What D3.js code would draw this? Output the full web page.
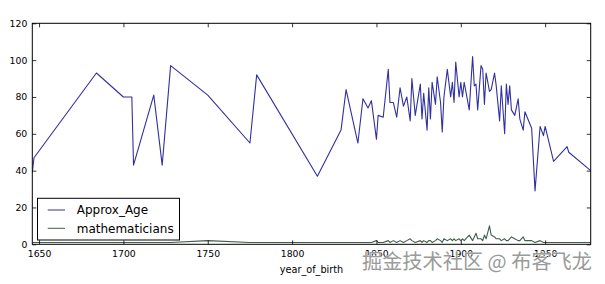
<!DOCTYPE html>
<html><head><meta charset="utf-8">
<script src="https://cdn.jsdelivr.net/npm/d3@7"></script>
<style>body{margin:0;background:#fff}svg{display:block}</style>
</head><body>
<script>
const years = [1646,1647,1684,1700,1705,1706,1718,1723,1728,1750,1775,1779,1815,1829,1832,1839,1842,1845,1847,1850,1851,1854,1857,1858,1860,1862,1864,1866,1868,1870,1871,1873,1876,1877,1878,1880,1881,1882,1883,1885,1886,1888,1889,1890,1892,1894,1895,1896,1897,1899,1900,1901,1902,1905,1907,1908,1909,1910,1912,1913,1914,1915,1917,1918,1920,1921,1923,1924,1926,1927,1928,1929,1930,1932,1934,1935,1937,1938,1942,1944,1947,1949,1950,1955,1963,1964,1977];
const approxAge = [39,47,93,80,80,43,81,43,97,81,55,92,37,62,84,55,79,74,78,57,70,69,95,77,77,69,85,75,80,67,90,70,87,68,82,62,85,68,88,76,91,77,61,80,95,80,88,77,99,80,88,80,88,73,102,86,87,73,97,95,76,93,83,84,93,86,67,86,60,87,76,86,73,70,79,68,62,72,63,29,64,59,64,45,53,50,40];
const mathematicians = [1,1,1,1,1,1,1,1,1,2,1,1,1,1,1,1,1,1,1,2,1,1,2,1,2,1,2,1,2,3,2,1,2,1,2,1,2,2,1,2,3,2,1,3,2,3,2,3,2,3,2,3,2,5,2,4,6,3,3,2,5,3,10,5,4,3,3,2,3,2,2,3,4,3,2,2,4,2,2,1,2,1,1,1,1,1,1];
const xTicks = [1650,1700,1750,1800,1850,1900,1950];
const yTicks = [0,20,40,60,80,100,120];
const seriesNames = ["Approx_Age","mathematicians"];
const seriesColors = ["#3030a0","#3f5f4a"];

const W=605,H=284, L=32.3, T=23.3, R=590.7, B=244.3;
const svg=d3.select("body").append("svg").attr("width",W).attr("height",H);
const x=d3.scaleLinear().domain([years[0],years[years.length-1]]).range([L,R]);
const y=d3.scaleLinear().domain([0,120]).range([B,T]);
const font="DejaVu Sans";

svg.append("defs").append("clipPath").attr("id","clip").append("rect")
  .attr("x",L).attr("y",T).attr("width",R-L).attr("height",B-T);

const line=(vals)=>d3.line().x((d,i)=>x(years[i])).y(d=>y(d))(vals);
const g=svg.append("g").attr("clip-path","url(#clip)");
[approxAge,mathematicians].forEach((vals,k)=>{
  g.append("path").attr("d",line(vals)).attr("fill","none")
   .attr("stroke",seriesColors[k]).attr("stroke-width",1.1).attr("stroke-linejoin","round");
});

function styleAxis(sel,showText){
  sel.select(".domain").remove();
  sel.selectAll(".tick line").attr("stroke","#000").attr("stroke-width",0.8);
  sel.selectAll(".tick text").attr("font-family",font).attr("font-size",9.3).attr("fill","#000");
  if(!showText) sel.selectAll(".tick text").remove();
}
styleAxis(svg.append("g").attr("transform",`translate(0,${B})`)
  .call(d3.axisBottom(x).tickValues(xTicks).tickFormat(d3.format("d")).tickSizeInner(-4).tickSizeOuter(0).tickPadding(6)),true);
styleAxis(svg.append("g").attr("transform",`translate(0,${T})`)
  .call(d3.axisTop(x).tickValues(xTicks).tickSizeInner(-4).tickSizeOuter(0)),false);
styleAxis(svg.append("g").attr("transform",`translate(${L},0)`)
  .call(d3.axisLeft(y).tickValues(yTicks).tickSizeInner(-4).tickSizeOuter(0).tickPadding(5)),true);
styleAxis(svg.append("g").attr("transform",`translate(${R},0)`)
  .call(d3.axisRight(y).tickValues(yTicks).tickSizeInner(-4).tickSizeOuter(0)),false);

svg.append("rect").attr("x",L).attr("y",T).attr("width",R-L).attr("height",B-T)
  .attr("fill","none").attr("stroke","#000").attr("stroke-width",1);

svg.append("text").attr("x",(L+R)/2).attr("y",272.5).attr("text-anchor","middle")
  .attr("font-family",font).attr("font-size",9.7).text("year_of_birth");

// legend
const lg=svg.append("g");
lg.append("rect").attr("x",37.5).attr("y",198.3).attr("width",142).attr("height",41.7)
  .attr("fill","#fff").attr("stroke","#000").attr("stroke-width",1);
seriesNames.forEach((n,i)=>{
  const yy=210+i*18.3;
  lg.append("line").attr("x1",47.7).attr("x2",65).attr("y1",yy).attr("y2",yy)
    .attr("stroke",seriesColors[i]).attr("stroke-width",1);
  lg.append("text").attr("x",76.7).attr("y",yy+4.2).attr("font-family",font)
    .attr("font-size",12).text(n);
});

// watermark
svg.append("text").attr("x",592).attr("y",269).attr("text-anchor","end")
  .attr("font-family","Noto Sans CJK SC").attr("font-size",20.2)
  .attr("fill","#9a9a9a").attr("stroke","#ffffff").attr("stroke-width",0.6)
  .attr("paint-order","stroke").text("掘金技术社区 @ 布客飞龙");
</script>
</body></html>
